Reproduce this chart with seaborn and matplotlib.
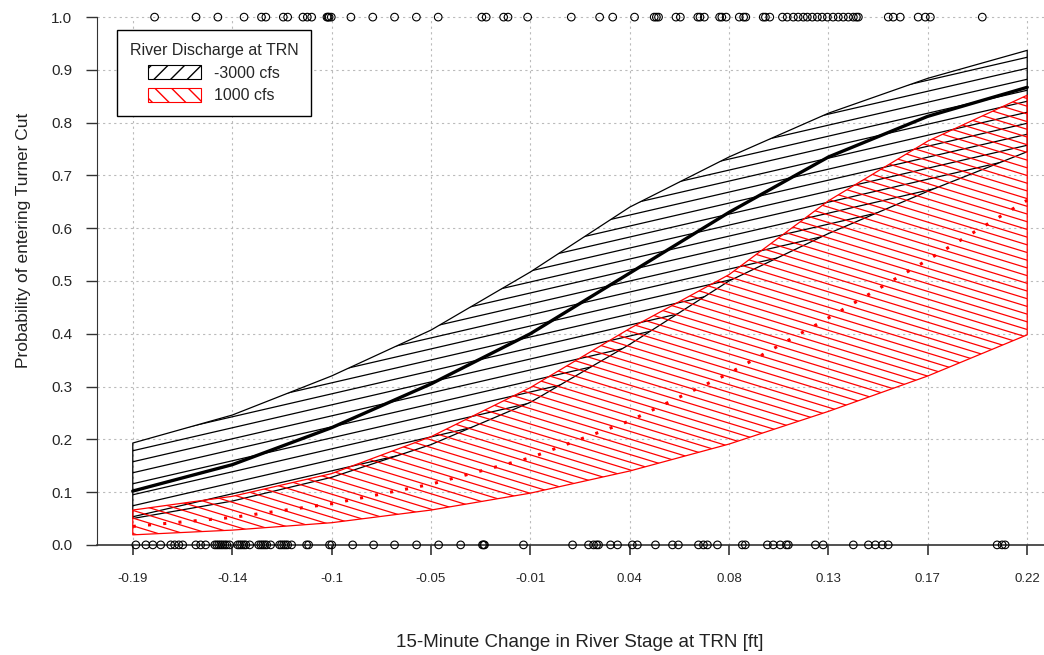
import numpy as np
import pandas as pd
import seaborn as sns
import matplotlib.pyplot as plt
from matplotlib.patches import Patch
from matplotlib.collections import LineCollection

# stage change values where the curves were read
stage = [-0.19, -0.1444, -0.0989, -0.0533, -0.0078, 0.0378, 0.0833, 0.1289, 0.1744, 0.22]

# -3000 cfs band
neg_upper = [0.193, 0.246, 0.320, 0.407, 0.517, 0.640, 0.735, 0.818, 0.884, 0.937]
neg_mean = [0.102, 0.152, 0.222, 0.305, 0.400, 0.515, 0.630, 0.735, 0.812, 0.867]
neg_lower = [0.050, 0.083, 0.128, 0.190, 0.270, 0.380, 0.500, 0.590, 0.670, 0.745]

# 1000 cfs band
pos_upper = [0.066, 0.092, 0.135, 0.205, 0.298, 0.410, 0.512, 0.652, 0.765, 0.852]
pos_mean = [0.035, 0.052, 0.078, 0.115, 0.165, 0.235, 0.325, 0.430, 0.540, 0.653]
pos_lower = [0.019, 0.028, 0.042, 0.066, 0.098, 0.140, 0.191, 0.253, 0.320, 0.398]

# observed fish: entered Turner Cut (1) or not (0)
entered = [-0.180, -0.161, -0.151, -0.139, -0.131, -0.129, -0.121, -0.119,
           -0.112, -0.110, -0.108, -0.101, -0.1005, -0.100, -0.099, -0.090,
           -0.080, -0.070, -0.060, -0.050, -0.030, -0.028, -0.020, -0.018,
           -0.009, 0.011, 0.024, 0.030, 0.040, 0.049, 0.050, 0.051, 0.059,
           0.061, 0.069, 0.070, 0.072, 0.079, 0.080, 0.082, 0.088, 0.090,
           0.091, 0.099, 0.100, 0.102, 0.1078, 0.110, 0.1128, 0.115, 0.1174,
           0.1192, 0.1215, 0.1238, 0.126, 0.1284, 0.131, 0.1334, 0.1357,
           0.138, 0.1403, 0.1417, 0.1426, 0.1563, 0.1586, 0.1618, 0.170,
           0.1733, 0.1756, 0.1994]
not_entered = [-0.1886, -0.1840, -0.1808, -0.1772, -0.1726, -0.1708, -0.1689,
               -0.1671, -0.1611, -0.1589, -0.1566, -0.1524, -0.1515, -0.1506,
               -0.1497, -0.1488, -0.1478, -0.1469, -0.1456, -0.1419, -0.1410,
               -0.1401, -0.1391, -0.1382, -0.1364, -0.1323, -0.1313, -0.1304,
               -0.1295, -0.1286, -0.1268, -0.1227, -0.1218, -0.1208, -0.1199,
               -0.1190, -0.1172, -0.1103, -0.1094, -0.0998, -0.0988, -0.0892,
               -0.0796, -0.0700, -0.0599, -0.0498, -0.0397, -0.0297, -0.0292,
               -0.0288, -0.0109, 0.0116, 0.0189, 0.0212, 0.0226, 0.0235, 0.0290,
               0.0322, 0.0390, 0.0413, 0.0496, 0.0574, 0.0601, 0.0693, 0.0716,
               0.0734, 0.0780, 0.0894, 0.0908, 0.1009, 0.1036, 0.1068, 0.1096,
               0.1105, 0.1229, 0.1265, 0.1403, 0.1472, 0.1504, 0.1536, 0.1563,
               0.2062, 0.2085, 0.2099]

tick_labels = ['-0.19', '-0.14', '-0.1', '-0.05', '-0.01', '0.04', '0.08', '0.13', '0.17', '0.22']

sns.set_style('white')
plt.rcParams['font.family'] = ['Liberation Sans', 'DejaVu Sans']

fig = plt.figure(figsize=(10.44, 6.55), dpi=100)
ax = fig.add_axes([97 / 1044, 89 / 655, 966 / 1044, 570 / 655])
xmin, xmax = -0.2064, 0.2364
ymin, ymax = -0.04, 1.04
ax.set_xlim(xmin, xmax)
ax.set_ylim(ymin, ymax)

# dotted grid
for t in np.linspace(-0.19, 0.22, 10):
    ax.vlines(t, 0, 1.0, color='#bbbbbb', lw=0.8, linestyles=(0, (2, 3)), zorder=0)
for v in np.arange(0.1, 1.01, 0.1):
    ax.axhline(v, color='#bbbbbb', lw=0.8, linestyle=(0, (2, 3)), zorder=0)


def hatched_band(x, lo, hi, color, angle, gap_px, lw):
    poly = ax.fill_between(x, lo, hi, facecolor='none', edgecolor=color, lw=0.9, zorder=2)
    px = ax.bbox.width / (xmax - xmin)
    py = ax.bbox.height / (ymax - ymin)
    m = np.tan(np.radians(angle)) * px / py
    dy = gap_px / py
    span = abs(m) * (xmax - xmin)
    segs = []
    for c in np.arange(ymin - span, ymax + span, dy):
        segs.append([(xmin, c), (xmax, c + m * (xmax - xmin))])
    lc = LineCollection(segs, colors=color, linewidths=lw, zorder=2)
    ax.add_collection(lc)
    lc.set_clip_path(poly.get_paths()[0], poly.get_transform())


hatched_band(stage, neg_lower, neg_upper, 'black', 13, 11, 0.9)
hatched_band(stage, pos_lower, pos_upper, 'red', -17, 7.7, 0.9)

sns.lineplot(x=stage, y=neg_mean, color='black', lw=2.4, ax=ax, zorder=3)
sns.lineplot(x=stage, y=pos_mean, color='red', lw=2.2, ax=ax, zorder=3,
             linestyle=(0, (1, 4)))

pts = pd.DataFrame({'stage': entered + not_entered,
                    'p': [1.0] * len(entered) + [0.0] * len(not_entered)})
sns.scatterplot(data=pts, x='stage', y='p', marker='o', s=30, facecolor='none',
                edgecolor='black', linewidth=0.8, ax=ax, zorder=4, clip_on=False)

# axes in R style
for s in ['top', 'right']:
    ax.spines[s].set_visible(False)
ax.spines['left'].set_bounds(0, 1)
ax.spines['left'].set_color('#333333')
ax.spines['bottom'].set_position(('data', 0))
ax.spines['bottom'].set_color('#333333')
ax.spines['bottom'].set_linewidth(1.2)
ax.set_yticks(np.arange(0, 1.01, 0.1))
ax.set_yticklabels([f'{v:.1f}' for v in np.arange(0, 1.01, 0.1)], fontsize=11)
ax.set_xticks(np.linspace(-0.19, 0.22, 10))
ax.set_xticklabels(tick_labels, fontsize=9.5,
                   family=['Liberation Sans Narrow', 'Liberation Sans'])
ax.tick_params(axis='y', direction='out', length=8, width=1, color='#333333', pad=10, left=True)
ax.tick_params(axis='x', direction='out', length=7, width=1.2, color='#333333', pad=13, bottom=True)

ax.set_ylabel('Probability of entering Turner Cut', fontsize=12.5, color='#222222')
ax.yaxis.set_label_coords(-66 / 966, (566 - 240) / 570)
ax.set_xlabel('15-Minute Change in River Stage at TRN [ft]', fontsize=13.5, color='#222222')
ax.xaxis.set_label_coords((580 - 97) / 966, -(634 - 566) / 570)

handles = [Patch(facecolor='white', edgecolor='black', hatch='//', lw=0.8, label='-3000 cfs'),
           Patch(facecolor='white', edgecolor='red', hatch='\\\\', lw=0.8, label='1000 cfs')]
leg = ax.legend(handles=handles, title='River Discharge at TRN', loc='upper left',
                bbox_to_anchor=(20 / 966, 1 - 34 / 570), borderaxespad=0,
                fontsize=11.5, title_fontsize=11.5,
                frameon=True, fancybox=False, framealpha=1, edgecolor='black',
                handlelength=3.3, handleheight=1.0, handletextpad=0.8,
                borderpad=0.8, labelspacing=0.45)
leg.get_frame().set_linewidth(1.0)

fig.savefig('out.png', dpi=100)
